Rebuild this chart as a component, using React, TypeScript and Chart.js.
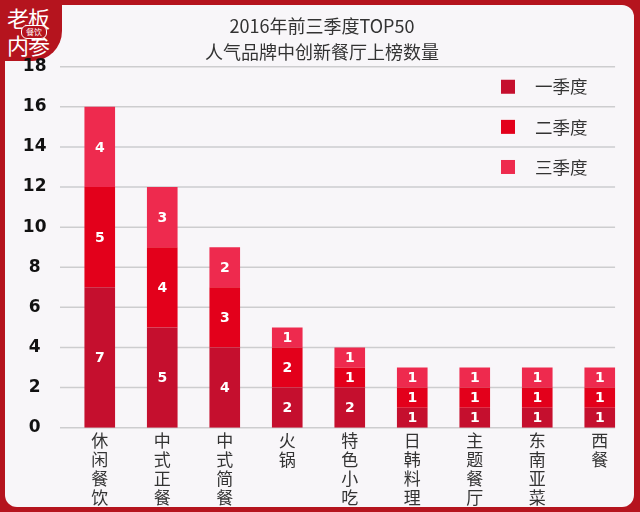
import React, { useEffect, useRef } from 'react';
import { Chart, registerables } from 'chart.js';

Chart.register(...registerables);

const categories = ['休闲餐饮', '中式正餐', '中式简餐', '火锅', '特色小吃', '日韩料理', '主题餐厅', '东南亚菜', '西餐'];
const q1Values = [7, 5, 4, 2, 2, 1, 1, 1, 1];
const q2Values = [5, 4, 3, 2, 1, 1, 1, 1, 1];
const q3Values = [4, 3, 2, 1, 1, 1, 1, 1, 1];
const seriesNames = ['一季度', '二季度', '三季度'];
const seriesColors = ['#c50f2e', '#e3001b', '#ee2a4e'];
const titleLines = ['2016年前三季度TOP50', '人气品牌中创新餐厅上榜数量'];
const yMin = 0;
const yMax = 18;
const yStep = 2;
const legendValues = [17, 15, 13];

const CJK = '"Noto Sans CJK SC", "Noto Sans", sans-serif';
const FRAME_RED = '#b5141e';

const gridPlugin = {
  id: 'customGrid',
  beforeDatasetsDraw(chart: any) {
    const { ctx, scales } = chart;
    const y = scales.y;
    const x = scales.x;
    const half = (x.getPixelForValue(1) - x.getPixelForValue(0)) / 2;
    const left = chart.chartArea.left - 8.5;
    const right = x.getPixelForValue(categories.length - 1) + half * 0.49;
    ctx.save();
    ctx.strokeStyle = '#cdcdcf';
    ctx.lineWidth = 1.5;
    y.ticks.forEach((t: any) => {
      const py = y.getPixelForValue(t.value);
      ctx.beginPath();
      ctx.moveTo(left, py);
      ctx.lineTo(right, py);
      ctx.stroke();
    });
    ctx.restore();
  },
};

const valueLabelPlugin = {
  id: 'valueLabels',
  afterDatasetsDraw(chart: any) {
    const { ctx } = chart;
    ctx.save();
    ctx.fillStyle = '#ffffff';
    ctx.font = 'bold 14px "DejaVu Sans", sans-serif';
    ctx.textAlign = 'center';
    ctx.textBaseline = 'middle';
    chart.data.datasets.forEach((ds: any, i: number) => {
      const meta = chart.getDatasetMeta(i);
      meta.data.forEach((bar: any, j: number) => {
        const p = bar.getProps(['x', 'y', 'base'], true);
        ctx.fillText(String(ds.data[j]), p.x, (p.y + p.base) / 2 + 1);
      });
    });
    ctx.restore();
  },
};

const legendPlugin = {
  id: 'customLegend',
  afterDraw(chart: any) {
    const { ctx, scales } = chart;
    const y = scales.y;
    ctx.save();
    chart.data.datasets.forEach((ds: any, i: number) => {
      const cy = y.getPixelForValue(legendValues[i]);
      ctx.fillStyle = ds.backgroundColor;
      ctx.fillRect(501, cy - 7, 14, 14);
      ctx.fillStyle = '#333333';
      ctx.font = `17.5px ${CJK}`;
      ctx.textAlign = 'left';
      ctx.textBaseline = 'middle';
      ctx.fillText(ds.label, 535, cy);
    });
    ctx.restore();
  },
};

export default function App() {
  const canvasRef = useRef<HTMLCanvasElement | null>(null);

  useEffect(() => {
    if (!canvasRef.current) return;
    const chart = new Chart(canvasRef.current, {
      type: 'bar',
      data: {
        labels: categories,
        datasets: [
          { label: seriesNames[0], data: q1Values, backgroundColor: seriesColors[0] },
          { label: seriesNames[1], data: q2Values, backgroundColor: seriesColors[1] },
          { label: seriesNames[2], data: q3Values, backgroundColor: seriesColors[2] },
        ],
      },
      options: {
        animation: false,
        responsive: false,
        maintainAspectRatio: false,
        layout: { padding: { left: 13, right: 9, top: 0, bottom: 1.3 } },
        datasets: { bar: { categoryPercentage: 1, barPercentage: 0.49 } },
        plugins: {
          legend: { display: false },
          tooltip: { enabled: false },
          title: {
            display: true,
            text: titleLines,
            color: '#333333',
            font: { family: CJK, size: 18, weight: 'normal', lineHeight: 26 / 18 },
            padding: { top: 13, bottom: 1.7 },
          },
        },
        scales: {
          x: {
            stacked: true,
            grid: { display: false, drawTicks: false },
            border: { display: false },
            ticks: {
              color: '#333333',
              font: { family: CJK, size: 17, lineHeight: 19 / 17 },
              padding: 3.5,
              maxRotation: 0,
              minRotation: 0,
              autoSkip: false,
              callback: (_v: any, i: number) => categories[i].split(''),
            },
          },
          y: {
            stacked: true,
            min: yMin,
            max: yMax,
            grid: { display: false, drawTicks: false },
            border: { display: false },
            ticks: {
              stepSize: yStep,
              color: '#111111',
              font: { family: '"DejaVu Sans", sans-serif', size: 17, weight: 'bold' },
              padding: 22,
              crossAlign: 'center',
            },
            afterFit: (s: any) => {
              s.width = 55.5;
            },
          },
        },
      },
      plugins: [gridPlugin, valueLabelPlugin, legendPlugin],
    } as any);
    return () => chart.destroy();
  }, []);

  return (
    <div style={{ position: 'absolute', left: 0, top: 0, width: 640, height: 512, background: FRAME_RED, overflow: 'hidden' }}>
      <div style={{ position: 'absolute', left: 5, top: 5, width: 629, height: 502, background: '#f8f6f9', borderRadius: 12 }} />
      <div style={{ position: 'absolute', left: 0, top: 0, width: 62, height: 61, background: FRAME_RED, borderBottomRightRadius: 30 }} />
      <div style={{ position: 'absolute', left: 7, top: 4, color: '#fff', fontFamily: CJK, fontSize: 22, lineHeight: '27px', letterSpacing: -1 }}>
        <div>老板</div>
        <div>内参</div>
      </div>
      <div style={{ position: 'absolute', left: 21, top: 25, width: 24, height: 12, borderRadius: 6, background: FRAME_RED, border: '1px solid #fff', color: '#fff', fontFamily: CJK, fontSize: 8, lineHeight: '12px', textAlign: 'center' }}>
        餐饮
      </div>
      <canvas ref={canvasRef} width={640} height={512} style={{ position: 'absolute', left: 0, top: 0, display: 'block' }} />
    </div>
  );
}
